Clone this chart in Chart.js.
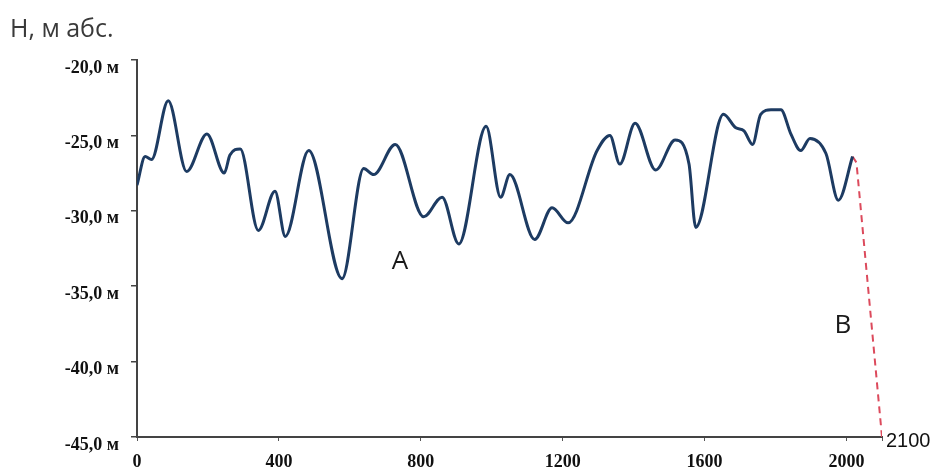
<!DOCTYPE html>
<html>
<head>
<meta charset="utf-8">
<script src="https://cdn.jsdelivr.net/npm/chart.js@4"></script>
<style>
  html, body { margin: 0; padding: 0; background: #ffffff; }
  #wrap { width: 931px; height: 468px; position: relative; }
</style>
</head>
<body>
<div id="wrap"><canvas id="c" width="931" height="468"></canvas></div>
<script>
// ---- data ----
const distances = [0, 23, 41, 88, 140, 197, 246, 262, 291, 342, 389, 418, 484, 578, 639, 667, 728, 808, 860, 907, 984, 1025, 1051, 1121, 1170, 1215, 1297, 1333, 1361, 1404, 1462, 1517, 1556, 1575, 1653, 1688, 1711, 1735, 1758, 1787, 1815, 1843, 1871, 1897, 1942, 1977, 2017];
const heights = [-28.3, -26.4, -26.6, -22.7, -27.4, -24.9, -27.5, -26.3, -25.9, -31.3, -28.7, -31.7, -26.0, -34.5, -27.2, -27.6, -25.6, -30.4, -29.1, -32.2, -24.4, -29.1, -27.6, -31.9, -29.8, -30.8, -26.0, -25.0, -26.9, -24.2, -27.3, -25.3, -26.9, -31.1, -23.6, -24.5, -24.7, -25.6, -23.6, -23.3, -23.3, -24.9, -26.0, -25.2, -26.2, -29.3, -26.4];
const breakDistances = [2017, 2028, 2100];
const breakHeights = [-26.4, -26.8, -45.0];
const xTickValues = [0, 400, 800, 1200, 1600, 2000];
const xEndValue = 2100;
const yTickValues = [-45, -40, -35, -30, -25, -20];
const yTickLabels = ['-45,0 м', '-40,0 м', '-35,0 м', '-30,0 м', '-25,0 м', '-20,0 м'];
const titleText = 'Н, м абс.';
const pointLabelTexts = ['A', 'B'];
const pointLabelX = [741, 1990];
const pointLabelY = [-33.4, -37.6];

const textPlugin = {
  id: 'texts',
  afterDraw(chart) {
    const ctx = chart.ctx;
    const xs = chart.scales.x, ys = chart.scales.y;
    ctx.save();
    ctx.fillStyle = '#3a3a3a';
    ctx.font = '25px "Open Sans"';
    ctx.textAlign = 'left';
    ctx.textBaseline = 'alphabetic';
    ctx.fillText(titleText, 10, 37);

    ctx.fillStyle = '#1a1a1a';
    ctx.font = '26px "Open Sans"';
    ctx.textAlign = 'center';
    ctx.textBaseline = 'middle';
    pointLabelTexts.forEach((t, i) => {
      ctx.fillText(t, xs.getPixelForValue(pointLabelX[i]), ys.getPixelForValue(pointLabelY[i]));
    });

    ctx.fillStyle = '#111';
    ctx.font = '20px "Liberation Sans"';
    ctx.textAlign = 'left';
    ctx.textBaseline = 'middle';
    ctx.fillText(String(xEndValue), xs.getPixelForValue(xEndValue) + 4, ys.bottom + 4);
    ctx.restore();
  }
};

new Chart(document.getElementById('c'), {
  type: 'line',
  data: {
    datasets: [
      {
        data: distances.map((x, i) => ({ x: x, y: heights[i] })),
        borderColor: '#1d3b62',
        borderWidth: 3,
        pointRadius: 0,
        cubicInterpolationMode: 'monotone',
        fill: false
      },
      {
        data: breakDistances.map((x, i) => ({ x: x, y: breakHeights[i] })),
        borderColor: '#dc4a5c',
        borderWidth: 2,
        borderDash: [7, 5],
        pointRadius: 0,
        tension: 0,
        fill: false
      }
    ]
  },
  options: {
    responsive: false,
    animation: false,
    devicePixelRatio: 1,
    layout: { padding: { top: 60, right: 49, left: 0, bottom: 0 } },
    plugins: { legend: { display: false }, tooltip: { enabled: false }, title: { display: false } },
    scales: {
      x: {
        type: 'linear',
        min: 0,
        max: xEndValue,
        afterBuildTicks: (axis) => { axis.ticks = xTickValues.concat([xEndValue]).map(v => ({ value: v })); },
        afterFit: (s) => { s.height = 31; },
        ticks: {
          autoSkip: false,
          maxRotation: 0,
          padding: 11,
          color: '#111',
          font: { family: '"Liberation Serif"', size: 18, weight: 'bold' },
          callback: (v) => (v === xEndValue ? '' : String(v))
        },
        grid: { drawOnChartArea: false, tickLength: 4, color: '#555', lineWidth: 1 },
        border: { color: '#444', width: 2 }
      },
      y: {
        type: 'linear',
        min: -45,
        max: -20,
        afterBuildTicks: (axis) => { axis.ticks = yTickValues.map(v => ({ value: v })); },
        afterFit: (s) => { s.width = 137; },
        ticks: {
          padding: 12,
          labelOffset: 8,
          color: '#111',
          font: { family: '"Liberation Serif"', size: 18, weight: 'bold' },
          callback: (v) => yTickLabels[yTickValues.indexOf(v)]
        },
        grid: { drawOnChartArea: false, tickLength: 6, color: '#444', lineWidth: 1.5 },
        border: { color: '#444', width: 2 }
      }
    }
  },
  plugins: [textPlugin]
});
</script>
</body>
</html>
